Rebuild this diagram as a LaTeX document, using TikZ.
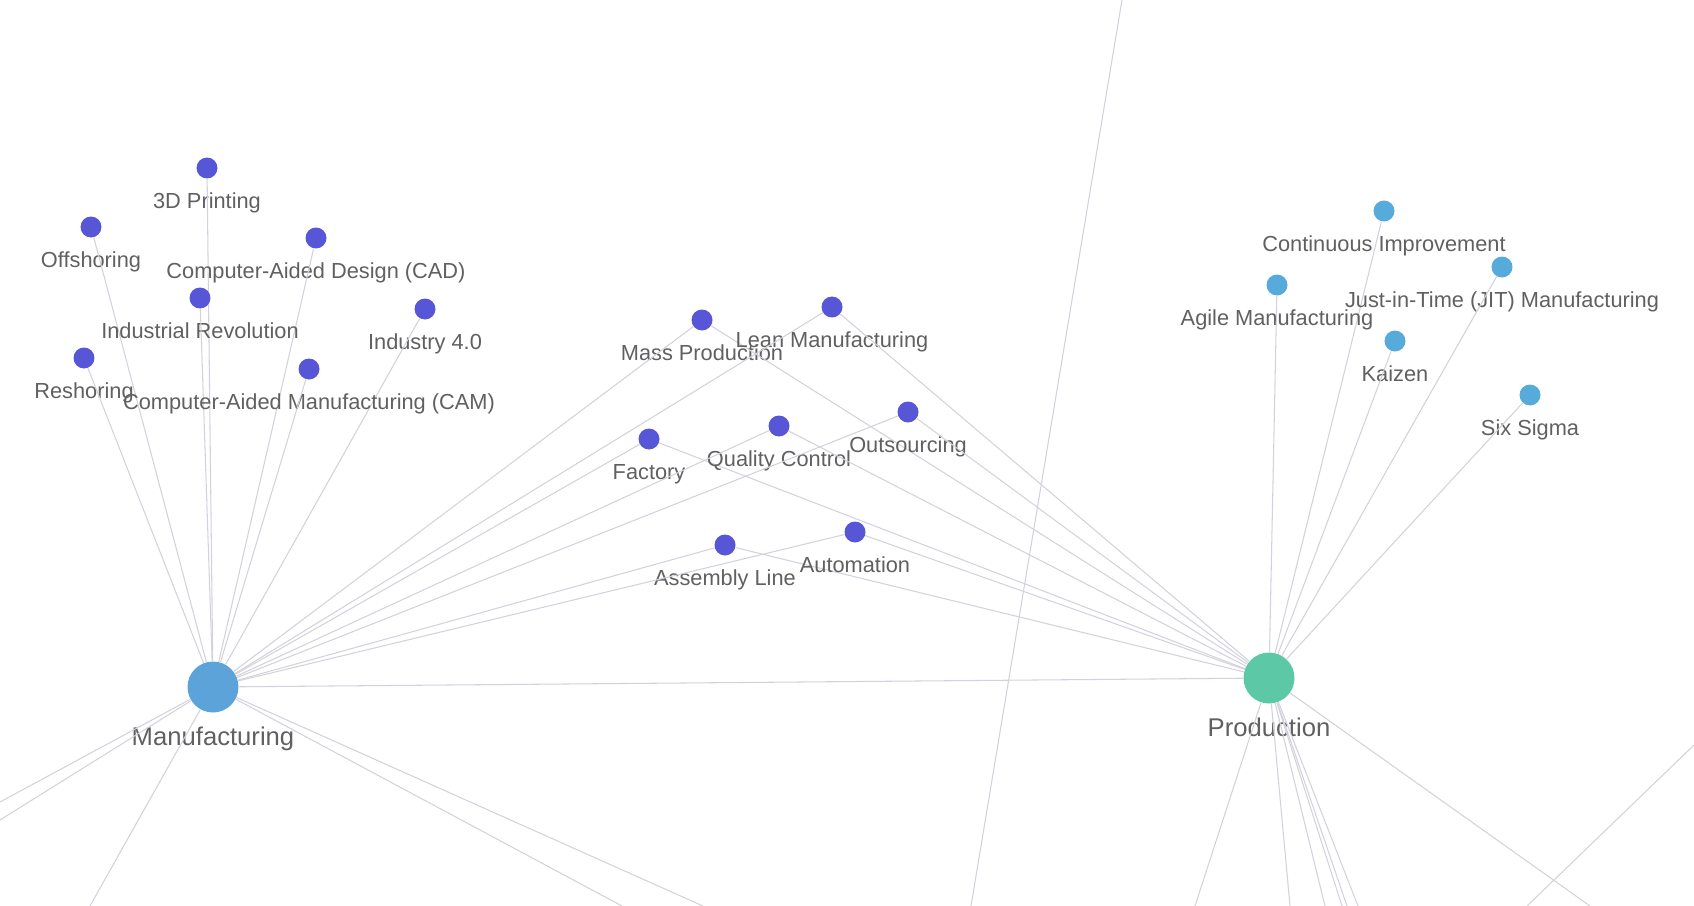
\documentclass[tikz,border=0pt]{standalone}
\usepackage{fontspec}
\setmainfont{Liberation Sans}
\usepackage{tikz}
\definecolor{mfgblue}{HTML}{5BA3D9}
\definecolor{prodgreen}{HTML}{5CC8A6}
\definecolor{indigo2}{HTML}{5656D6}
\definecolor{sky2}{HTML}{57ABDB}
\definecolor{edgegray}{HTML}{D2D2DC}
\definecolor{lblgray}{HTML}{606060}

\begin{document}
\begin{tikzpicture}[
          x=0.02cm, y=-0.02cm,
          edge/.style={draw=edgegray, line width=0.6pt},
          dotA/.style={circle, fill=indigo2, minimum size=0.42cm, inner sep=0pt},
          dotB/.style={circle, fill=sky2, minimum size=0.42cm, inner sep=0pt},
          hub/.style={circle, minimum size=1.02cm, inner sep=0pt},
          lbl/.style={font=\fontsize{12.4}{14}\selectfont, text=lblgray, inner sep=0pt, anchor=base},
          hublbl/.style={font=\fontsize{14.6}{17}\selectfont, text=lblgray, inner sep=0pt, anchor=base}
      ]
        \useasboundingbox (0,0) rectangle (1694,906);
        \clip (0,0) rectangle (1694,906);

        % Hubs
        \node[hub, fill=mfgblue] (mfg) at (213,687) {};
        \node[hublbl] (mfg-l) at (213,745) {Manufacturing};
        \node[hub, fill=prodgreen] (prod) at (1269,678) {};
        \node[hublbl] (prod-l) at (1269,736) {Production};

        % Concepts around Manufacturing
        \foreach \n/\x/\y/\t in {
            print/207/168/{3D Printing},
            offsh/91/227/{Offshoring},
            cad/316/238/{Computer-Aided Design (CAD)},
            indrev/200/298/{Industrial Revolution},
            ind4/425/309/{Industry 4.0},
            reshor/84/358/{Reshoring},
            cam/309/369/{Computer-Aided Manufacturing (CAM)}} {
          \node[dotA] (\n) at (\x,\y) {};
          \node[lbl] (\n-l) at (\x,\y+40) {\t};
          \draw[edge] (mfg) -- (\n);
        }

        % Concepts shared by both hubs
        \foreach \n/\x/\y/\t in {
            massp/702/320/{Mass Production},
            lean/832/307/{Lean Manufacturing},
            fact/649/439/{Factory},
            qc/779/426/{Quality Control},
            outs/908/412/{Outsourcing},
            asml/725/545/{Assembly Line},
            auto/855/532/{Automation}} {
          \node[dotA] (\n) at (\x,\y) {};
          \node[lbl] (\n-l) at (\x,\y+40) {\t};
          \draw[edge] (mfg) -- (\n) -- (prod);
        }

        % Concepts around Production
        \foreach \n/\x/\y/\t in {
            contimp/1384/211/{Continuous Improvement},
            jit/1502/267/{Just-in-Time (JIT) Manufacturing},
            agile/1277/285/{Agile Manufacturing},
            kaizen/1395/341/{Kaizen},
            sixsig/1530/395/{Six Sigma}} {
          \node[dotB] (\n) at (\x,\y) {};
          \node[lbl] (\n-l) at (\x,\y+40) {\t};
          \draw[edge] (prod) -- (\n);
        }

        \draw[edge] (mfg) -- (prod);

        % Links leaving the frame
        \coordinate (m-sw1) at (0,802);
        \coordinate (m-sw2) at (0,820);
        \coordinate (m-s) at (90,906);
        \coordinate (m-se1) at (622,906);
        \coordinate (m-se2) at (703,906);
        \foreach \c in {m-sw1,m-sw2,m-s,m-se1,m-se2}
          \draw[edge] (mfg) -- (\c);

        \coordinate (p-s1) at (1195,906);
        \coordinate (p-s2) at (1290,906);
        \coordinate (p-s3) at (1325,906);
        \coordinate (p-s4) at (1342,906);
        \coordinate (p-s5) at (1347,906);
        \coordinate (p-s6) at (1358,906);
        \coordinate (p-se) at (1590,906);
        \foreach \c in {p-s1,p-s2,p-s3,p-s4,p-s5,p-s6,p-se}
          \draw[edge] (prod) -- (\c);

        % Passing links
        \coordinate (far-n) at (1122,0);
        \coordinate (far-s) at (971,906);
        \draw[edge] (far-n) -- (far-s);
        \coordinate (far-e) at (1694,745);
        \coordinate (far-se) at (1527,906);
        \draw[edge] (far-e) -- (far-se);
      \end{tikzpicture}
\end{document}
